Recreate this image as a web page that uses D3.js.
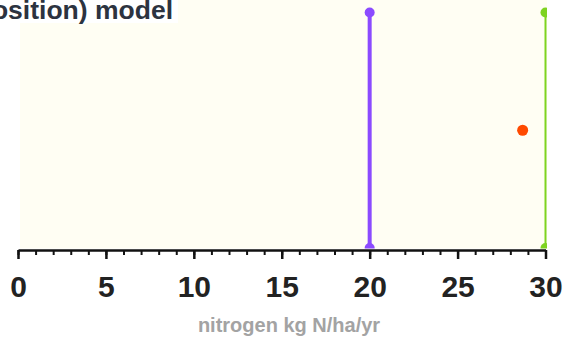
<!DOCTYPE html>
<html>
<head>
<meta charset="utf-8">
<script src="https://cdn.jsdelivr.net/npm/d3@7"></script>
<style>
  body { margin: 0; background: #fff; }
  svg { display: block; font-family: "Liberation Sans", Arial, sans-serif; }
</style>
</head>
<body>
<div id="chart"></div>
<script>
// threshold lines (value on the x axis) and their colours
const lineValues = [20, 30];
const lineColors = ["#8b4bff", "#7ed321"];
const lineWidths = [4, 2];

// modelled point
const pointValues = [28.7];
const pointLevels = [0.5];
const pointColors = ["#ff4a00"];

const majorTicks = [0, 5, 10, 15, 20, 25, 30];
const minorTicks = d3.range(0, 31, 1);

const xLabel = "nitrogen kg N/ha/yr";
const titleText = "Nitrogen (deposition) model";

let width = 563, height = 340;

let svg = d3.select("#chart").append("svg")
  .attr("width", width)
  .attr("height", height);

let x = d3.scaleLinear().domain([0, 30]).range([18, 545.5]);
let y = d3.scaleLinear().domain([0, 1]).range([248, 12.5]);

// plot background + clip
let plotLeft = 20, plotRight = 547, plotTop = 0, plotBottom = 248.5;

svg.append("defs").append("clipPath").attr("id", "plotclip")
  .append("rect")
  .attr("x", plotLeft).attr("y", plotTop)
  .attr("width", plotRight - plotLeft).attr("height", plotBottom - plotTop);

svg.append("rect")
  .attr("x", plotLeft).attr("y", plotTop)
  .attr("width", plotRight - plotLeft).attr("height", plotBottom - plotTop)
  .attr("fill", "#fffef3");

let g = svg.append("g").attr("clip-path", "url(#plotclip)");

// vertical threshold lines with end dots
lineValues.forEach(function(v, i) {
  g.append("line")
    .attr("x1", x(v)).attr("x2", x(v))
    .attr("y1", y(1)).attr("y2", y(0))
    .attr("stroke", lineColors[i])
    .attr("stroke-width", lineWidths[i]);
  g.selectAll(null)
    .data([0, 1])
    .enter().append("circle")
    .attr("cx", x(v))
    .attr("cy", d => y(d))
    .attr("r", 5)
    .attr("fill", lineColors[i]);
});

// model point
g.selectAll(".pt")
  .data(pointValues)
  .enter().append("circle")
  .attr("class", "pt")
  .attr("cx", d => x(d))
  .attr("cy", (d, i) => y(pointLevels[i]))
  .attr("r", 5.5)
  .attr("fill", (d, i) => pointColors[i]);

// minor ticks
svg.append("g")
  .attr("transform", "translate(0,250)")
  .call(d3.axisBottom(x).tickValues(minorTicks).tickSize(5).tickSizeOuter(0).tickFormat(""))
  .call(a => a.select(".domain").remove())
  .call(a => a.selectAll("line").attr("stroke", "#111").attr("stroke-width", 2));

// major ticks + labels
let xAxis = svg.append("g")
  .attr("transform", "translate(0,250)")
  .call(d3.axisBottom(x).tickValues(majorTicks).tickSize(9).tickSizeOuter(0).tickFormat(d3.format("d")));

xAxis.select(".domain").attr("stroke", "#111").attr("stroke-width", 2.5);
xAxis.selectAll(".tick line").attr("stroke", "#111").attr("stroke-width", 2.5);
xAxis.selectAll(".tick text")
  .attr("y", 47).attr("dy", 0)
  .attr("fill", "#222")
  .style("font-size", "30px")
  .style("font-weight", "bold");

// axis title
svg.append("text")
  .attr("x", 289).attr("y", 332)
  .attr("text-anchor", "middle")
  .attr("fill", "#a3a3a3")
  .style("font-size", "20px")
  .style("font-weight", "bold")
  .text(xLabel);

// chart title (cut at the left edge)
svg.append("rect")
  .attr("x", 0).attr("y", 0)
  .attr("width", 178).attr("height", 23)
  .attr("fill", "#fff");

svg.append("text")
  .attr("x", 173).attr("y", 19)
  .attr("text-anchor", "end")
  .attr("fill", "#2c3340")
  .style("font-size", "26.5px")
  .style("font-weight", "bold")
  .text(titleText);
</script>
</body>
</html>
